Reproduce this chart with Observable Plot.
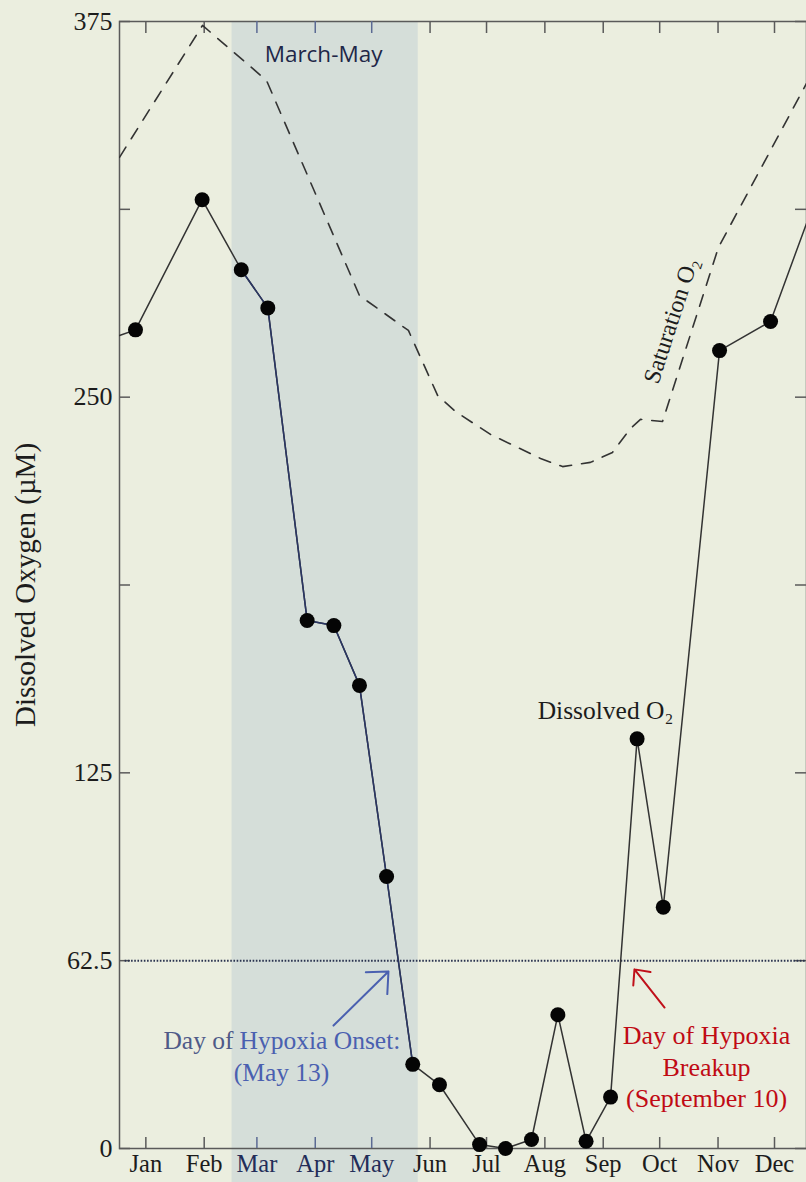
<!DOCTYPE html>
<html><head><meta charset="utf-8">
<script src="https://cdn.jsdelivr.net/npm/d3@7"></script>
<script src="https://cdn.jsdelivr.net/npm/@observablehq/plot@0.6"></script>
<style>
html,body{margin:0;padding:0;background:#EBEEDF;}
#chart svg{display:block;}
</style>
</head><body><div id="chart"></div>
<script>
// ---- data ----
const months = ["Jan","Feb","Mar","Apr","May","Jun","Jul","Aug","Sep","Oct","Nov","Dec"];
const monthTickDays = [14,45,73,104,134,165,195,226,257,287,318,348];
const yTicks = [0,62.5,125,187.5,250,312.5,375];
const yTickLabels = [0,62.5,125,250,375];

// Dissolved O2 samples (day of year, µM)
const doDays   = [8.5,43.9,64.7,78.8,99.7,113.9,127.5,141.9,155.8,170.0,191.3,205.1,218.9,232.9,247.9,260.9,275.0,288.9,318.8,345.9];
const doValues = [272.4,315.7,292.4,279.7,175.7,174.0,154.1,90.5,28.0,21.2,1.3,0,3.0,44.5,2.4,17.1,136.3,80.3,265.5,275.2];
// line continuation at the year edges
const doEdgeDays = [0,365];
const doEdgeValues = [270.5,307.8];

// Saturation O2 (dashed)
const satDays   = [0,44.1,78.1,127.5,153.5,169.0,178.5,197.1,223.7,235.4,250.2,261.9,271.5,276.8,288.5,318.2,365];
const satValues = [329.8,373.7,355.4,283.8,272.2,250.6,245.2,237.6,229.6,226.9,228.3,231.6,239.6,242.6,241.9,299.8,354.4];

const hypoxiaThreshold = 62.5;
const seasonStart = 59.8, seasonEnd = 158.7; // March-May band

// ---- derived tables ----
const doPoints = doDays.map((d,i)=>({day:d, value:doValues[i]}));
const doLine = [{day:doEdgeDays[0], value:doEdgeValues[0]}, ...doPoints, {day:doEdgeDays[1], value:doEdgeValues[1]}];
const doInSeason = doPoints.filter(p => p.day >= seasonStart && p.day <= seasonEnd);
const satLine = satDays.map((d,i)=>({day:d, value:satValues[i]}));
const monthTable = months.map((m,i)=>({month:m, day:monthTickDays[i], inSeason: monthTickDays[i] > seasonStart && monthTickDays[i] < seasonEnd}));

const serif = "Liberation Serif, Times New Roman, serif";
const navy = "#232d58";

const chart = Plot.plot({
  width: 806,
  height: 1182,
  marginLeft: 119,
  marginRight: 0,
  marginTop: 21,
  marginBottom: 34,
  style: {background: "#EBEEDF", fontFamily: serif},
  x: {domain: [0,365], axis: null},
  y: {domain: [0,375], axis: null},
  marks: [
    // March–May band (extends over the month labels)
    Plot.rect([{s:seasonStart, e:seasonEnd}], {x1:"s", x2:"e", y1:0, y2:375, insetBottom:-34, fill:"#D5DED9"}),
    // frame & ticks
    Plot.frame({stroke:"#5a5a5a", strokeWidth:1.5}),
    Plot.tickY(yTicks, {y:d=>d, insetRight:676, stroke:"#5a5a5a", strokeWidth:1.5}),
    Plot.tickY(yTicks, {y:d=>d, insetLeft:676, stroke:"#5a5a5a", strokeWidth:1.5}),
    Plot.tickX(monthTable, {x:"day", insetBottom:1115, stroke:d=>d.inSeason?"#5b6a93":"#5a5a5a", strokeWidth:1.5}),
    Plot.tickX(monthTable, {x:"day", insetTop:1116, stroke:d=>d.inSeason?"#5b6a93":"#5a5a5a", strokeWidth:1.5}),
    // tick labels
    Plot.text(yTickLabels, {y:d=>d, text:d=>String(d), frameAnchor:"left", textAnchor:"end", dx:-7, fontSize:26, fill:"#1c1c1c"}),
    Plot.text(monthTable, {x:"day", text:"month", frameAnchor:"bottom", dy:23, fontSize:24.5, fill:d=>d.inSeason?navy:"#1c1c1c"}),
    Plot.text(["Dissolved Oxygen (\u00b5M)"], {y:187.5, frameAnchor:"left", textAnchor:"middle", dx:-94, rotate:-90, fontSize:29, fill:"#1c1c1c"}),
    // hypoxia threshold
    Plot.ruleY([hypoxiaThreshold], {x1:3, x2:365, stroke:"#2a3350", strokeWidth:2, strokeDasharray:"1.6,1.6"}),
    // saturation O2
    Plot.line(satLine, {x:"day", y:"value", stroke:"#333", strokeWidth:1.6, strokeDasharray:"12,10", clip:true}),
    // dissolved O2
    Plot.line(doLine, {x:"day", y:"value", stroke:"#333", strokeWidth:1.5, clip:true}),
    Plot.line(doInSeason, {x:"day", y:"value", stroke:"#2a3664", strokeWidth:1.5}),
    Plot.dot(doPoints, {x:"day", y:"value", r:7.5, fill:"#050505"}),
    // arrows
    Plot.arrow([{x1:113.7, y1:40.9, x2:142.9, y2:58.9}], {x1:"x1", y1:"y1", x2:"x2", y2:"y2", stroke:"#4a60b0", strokeWidth:2, headLength:17, headAngle:85}),
    Plot.arrow([{x1:289.6, y1:46.9, x2:273.6, y2:59.6}], {x1:"x1", y1:"y1", x2:"x2", y2:"y2", stroke:"#c0101a", strokeWidth:2, headLength:17, headAngle:85}),
    // annotations
    Plot.text(["March-May"], {x:108.4, y:364.0, fontSize:22.5, fontFamily:"Open Sans, sans-serif", fill:"#1e2748"}),
    Plot.text(["Saturation O\u2082"], {x:293.0, y:275.5, rotate:-72, fontSize:24, fill:"#1c1c1c"}),
    Plot.text(["Dissolved O\u2082"], {x:258.2, y:145.7, fontSize:25.5, fill:"#1c1c1c"}),
    Plot.text(["Day of"], {x:60.6, y:35.9, textAnchor:"end", fontSize:25.5, fill:"#4f5a88"}),
    Plot.text(["Hypoxia Onset:"], {x:63.8, y:35.9, textAnchor:"start", fontSize:25.5, fill:"#4a60b0"}),
    Plot.text(["(May 13)"], {x:86.1, y:25.3, fontSize:25.5, fill:"#4a60b0"}),
    Plot.text(["Day of Hypoxia","Breakup","(September 10)"], {x:311.9, y:(d,i)=>[37.6,27.0,16.6][i], fontSize:26, fill:"#c00a14"})
  ]
});
document.getElementById("chart").append(chart);
</script>
</body></html>
